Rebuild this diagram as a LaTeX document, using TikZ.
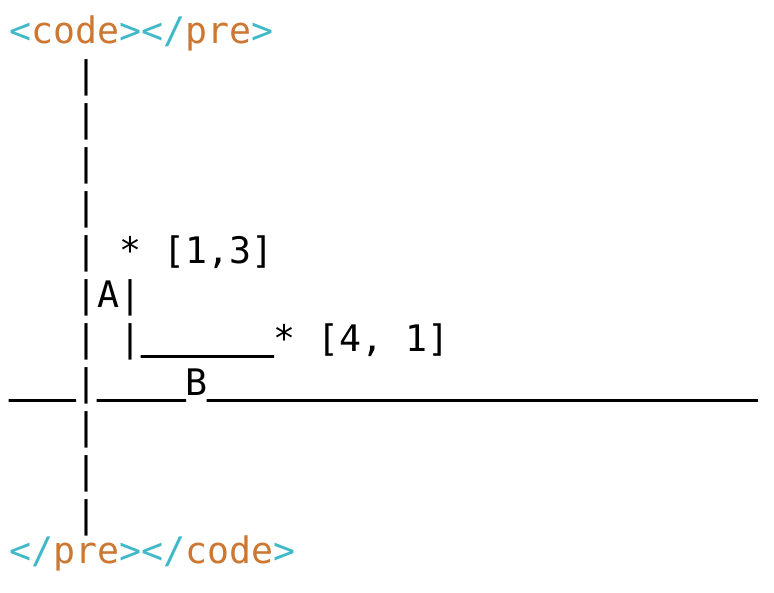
\documentclass[tikz,border=0pt]{standalone}
\usepackage{fontspec}
\setmonofont{DejaVu Sans Mono}
\newfontfamily\heavymono{DejaVu Sans Mono}[FakeBold=4]
\frenchspacing

\definecolor{tagcyan}{HTML}{3FB8C8}
\definecolor{tagorange}{HTML}{CC7832}

\newcommand{\tagbr}[1]{\textcolor{tagcyan}{#1}}
\newcommand{\tagname}[1]{\textcolor{tagorange}{#1}}
\newcommand{\unders}[1]{\raisebox{2.8pt}{\heavymono\foreach \u in {1,...,#1}{\_}}}

\tikzset{
    asciiline/.style={anchor=base west, inner sep=0pt, outer sep=0pt,
        font=\ttfamily\fontsize{36.54pt}{44pt}\selectfont}
}

\begin{document}
\begin{tikzpicture}[x=1pt, y=-1pt]
    \useasboundingbox (0,0) rectangle (774,592);

    % opening tags
    \node[asciiline] (open) at (9.3,43.4)
        {\tagbr{<}\tagname{code}\tagbr{></}\tagname{pre}\tagbr{>}};

    % vertical axis above the points
    \foreach \k in {1,...,4}
        \node[asciiline] (bar-\k) at (75.3,43.4+44*\k) {|};

    % point [1,3]
    \node[asciiline] (ptA) at (75.3,263.4) {| * [1,3]};
    \node[asciiline] (labA) at (75.3,307.4) {|A|};

    % point [4, 1]
    \node[asciiline] (ptB) at (75.3,351.4) {| |\unders{6}* [4, 1]};

    % horizontal axis
    \node[asciiline] (axis) at (9.3,395.4) {\unders{3}|\unders{4}B\unders{25}};

    % vertical axis below
    \foreach \k in {9,...,11}
        \node[asciiline] (bar-\k) at (75.3,43.4+44*\k) {|};

    % closing tags
    \node[asciiline] (close) at (9.3,563)
        {\tagbr{</}\tagname{pre}\tagbr{></}\tagname{code}\tagbr{>}};
\end{tikzpicture}
\end{document}
